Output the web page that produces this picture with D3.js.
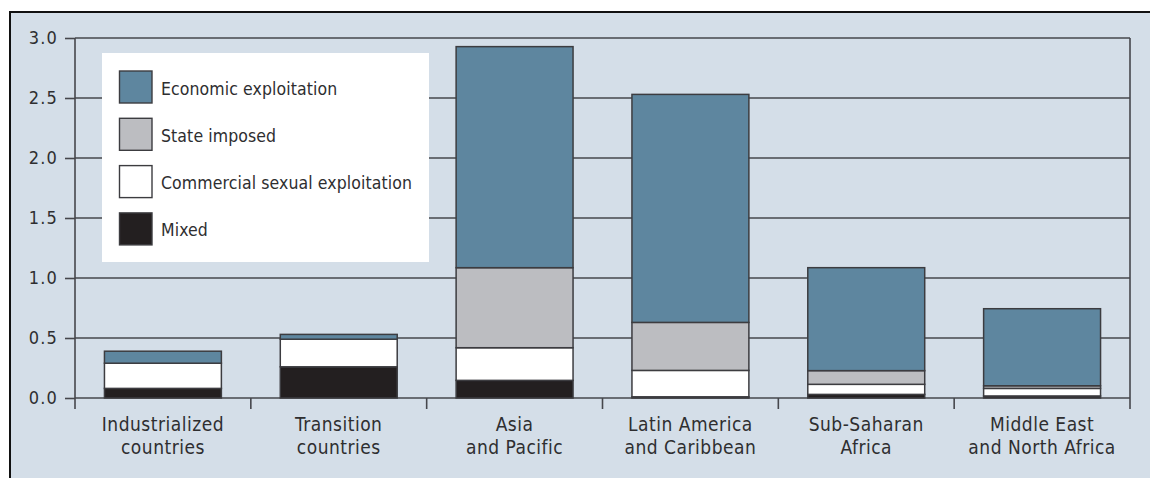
<!DOCTYPE html>
<html>
<head>
<meta charset="utf-8">
<script src="https://cdn.jsdelivr.net/npm/d3@7"></script>
<style>
  html, body { margin: 0; padding: 0; background: #ffffff; }
  svg { display: block; }
  text { font-family: "DejaVu Sans Condensed", "Liberation Sans Narrow", sans-serif; fill: #2e2e30; }
</style>
</head>
<body>
<svg id="chart" width="1150" height="478"></svg>
<script>
// ---- data ----
const categories = [
  ["Industrialized", "countries"],
  ["Transition", "countries"],
  ["Asia", "and Pacific"],
  ["Latin America", "and Caribbean"],
  ["Sub-Saharan", "Africa"],
  ["Middle East", "and North Africa"]
];
const seriesNames = ["Mixed", "Commercial sexual exploitation", "State imposed", "Economic exploitation"];
const mixed      = [0.08, 0.26, 0.147, 0.01, 0.03, 0.017];
const commercial = [0.21, 0.23, 0.272, 0.22, 0.084, 0.063];
const stateImp   = [0.00, 0.00, 0.667, 0.40, 0.114, 0.022];
const economic   = [0.10, 0.04, 1.842, 1.90, 0.858, 0.642];
const yTicks = [0.0, 0.5, 1.0, 1.5, 2.0, 2.5, 3.0];
const legendOrder = ["Economic exploitation", "State imposed", "Commercial sexual exploitation", "Mixed"];

const colors = {
  "Economic exploitation": "#5e869f",
  "State imposed": "#bcbdc1",
  "Commercial sexual exploitation": "#ffffff",
  "Mixed": "#231f20"
};

// ---- layout ----
const svg = d3.select("#chart");
const mLeft = 75, mRight = 1130, mTop = 38, mBottom = 398;
const lineColor = "#46474c";

// panel
svg.append("rect")
  .attr("x", 10).attr("y", 12)
  .attr("width", 1160).attr("height", 480)
  .attr("fill", "#d4dee8")
  .attr("stroke", "#111").attr("stroke-width", 2);

const rows = categories.map((c, i) => ({
  key: i,
  "Mixed": mixed[i],
  "Commercial sexual exploitation": commercial[i],
  "State imposed": stateImp[i],
  "Economic exploitation": economic[i]
}));

const x = d3.scaleBand()
  .domain(categories.map((c, i) => i))
  .range([mLeft, mRight])
  .paddingInner(0.335)
  .paddingOuter(0.1675);

const y = d3.scaleLinear().domain([0, 3]).range([mBottom, mTop]);

// left ticks + labels
const yAxis = d3.axisLeft(y).tickValues(yTicks).tickSize(10).tickFormat(d3.format(".1f")).tickPadding(7);
const gy = svg.append("g").attr("transform", `translate(${mLeft},0)`).call(yAxis);
gy.select(".domain").remove();
gy.selectAll(".tick line").attr("stroke", lineColor).attr("stroke-width", 1.6);
gy.selectAll(".tick text")
  .attr("font-size", 18).attr("letter-spacing", 1.2)
  .style("font-family", '"DejaVu Sans Condensed", sans-serif')
  .attr("fill", "#2e2e30");

// gridlines
svg.append("g").selectAll("line").data(yTicks).join("line")
  .attr("x1", mLeft).attr("x2", mRight)
  .attr("y1", d => y(d)).attr("y2", d => y(d))
  .attr("stroke", lineColor).attr("stroke-width", 1.6);

// vertical axes
[mLeft, mRight].forEach(xx => {
  svg.append("line").attr("x1", xx).attr("x2", xx)
    .attr("y1", y(3)).attr("y2", mBottom + 11)
    .attr("stroke", lineColor).attr("stroke-width", 1.6);
});

// category boundary ticks
const step = x.step();
const bounds = d3.range(1, categories.length).map(i => mLeft + step * i);
svg.append("g").selectAll("line").data(bounds).join("line")
  .attr("x1", d => d).attr("x2", d => d)
  .attr("y1", mBottom).attr("y2", mBottom + 11)
  .attr("stroke", lineColor).attr("stroke-width", 1.6);

// legend box (over gridlines)
const lg = svg.append("g");
lg.append("rect").attr("x", 102).attr("y", 53).attr("width", 327).attr("height", 209).attr("fill", "#ffffff");
legendOrder.forEach((name, i) => {
  const ty = 71 + i * 47.3;
  lg.append("rect").attr("x", 119.5).attr("y", ty).attr("width", 32.5).attr("height", 32)
    .attr("fill", colors[name]).attr("stroke", "#3c3c40").attr("stroke-width", 1.4);
  lg.append("text").attr("x", 161).attr("y", ty + 23.5)
    .attr("font-size", 17.5).attr("letter-spacing", 0.1).text(name);
});

// stacked bars
const stack = d3.stack().keys(seriesNames);
const layers = stack(rows);
svg.append("g").selectAll("g").data(layers).join("g")
  .attr("fill", d => colors[d.key])
  .selectAll("rect").data(d => d.filter(s => s[1] - s[0] > 0)).join("rect")
  .attr("x", d => x(d.data.key))
  .attr("width", x.bandwidth())
  .attr("y", d => y(d[1]))
  .attr("height", d => y(d[0]) - y(d[1]))
  .attr("stroke", "#3c3c40").attr("stroke-width", 1.5);

// category labels
const lab = svg.append("g");
categories.forEach((c, i) => {
  const cx = x(i) + x.bandwidth() / 2;
  c.forEach((line, j) => {
    lab.append("text").attr("x", cx).attr("y", 431 + j * 22.5)
      .attr("text-anchor", "middle").attr("font-size", 19).attr("letter-spacing", 0.5)
      .text(line);
  });
});
</script>
</body>
</html>
